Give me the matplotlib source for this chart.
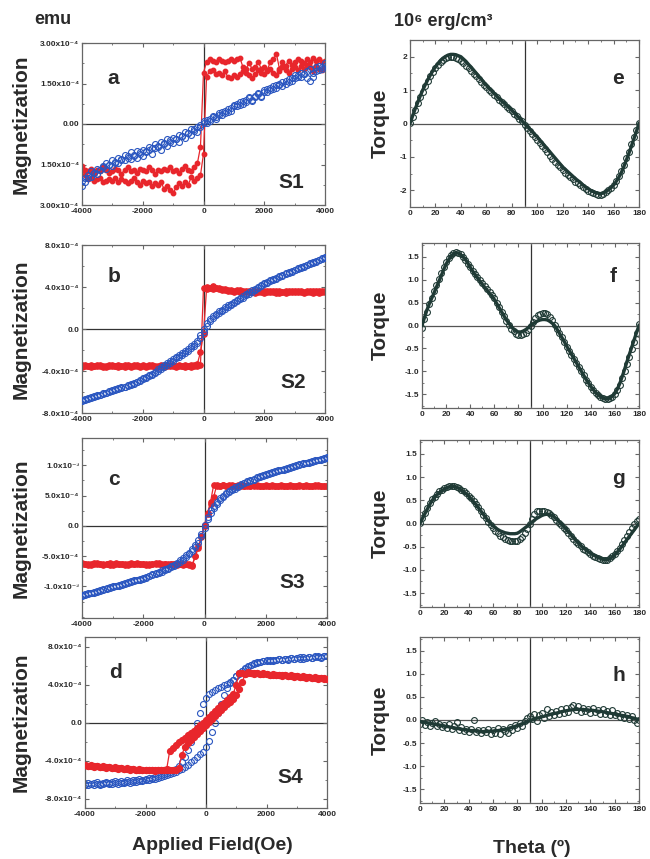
import numpy as np
import matplotlib
matplotlib.use("Agg")
import matplotlib.pyplot as plt
from matplotlib.ticker import MultipleLocator, FixedLocator, FixedFormatter, FormatStrFormatter

plt.rcParams['font.family'] = ['Liberation Sans', 'DejaVu Sans']
plt.rcParams['font.weight'] = 'bold'
plt.rcParams['axes.unicode_minus'] = False

# ---------------- data ----------------
field = np.arange(-4000, 4001, 100)          # applied field (Oe)
theta = np.arange(0, 181, 2)                  # angle (deg)

# Panel a (S1), units 1e-4 emu
a_blue1 = [-2.30,-2.15,-2.00,-1.95,-1.80,-1.85,-1.70,-1.60,-1.65,-1.50,
           -1.55,-1.40,-1.45,-1.30,-1.35,-1.20,-1.30,-1.15,-1.25,-1.10,
           -1.20,-1.05,-0.95,-1.10,-0.90,-0.85,-0.95,-0.75,-0.80,-0.65,
           -0.70,-0.55,-0.65,-0.45,-0.50,-0.35,-0.40,-0.20,-0.30,-0.10,
           0.05,0.15,0.10,0.25,0.20,0.40,0.35,0.50,0.45,0.60,
           0.70,0.65,0.80,0.75,0.90,0.95,0.85,1.05,1.10,1.00,
           1.25,1.20,1.35,1.30,1.45,1.50,1.40,1.60,1.55,1.70,
           1.80,1.75,1.90,1.85,1.95,2.05,1.90,2.10,2.15,2.05,
           2.25]
a_blue2 = [-2.10,-2.00,-1.90,-1.75,-1.80,-1.65,-1.70,-1.55,-1.45,-1.50,
           -1.35,-1.45,-1.25,-1.35,-1.15,-1.25,-1.05,-1.20,-1.00,-1.05,
           -0.95,-1.00,-0.85,-0.90,-0.75,-0.80,-0.65,-0.70,-0.55,-0.60,
           -0.50,-0.55,-0.40,-0.45,-0.30,-0.35,-0.20,-0.25,-0.10,-0.05,
           0.10,0.05,0.20,0.30,0.25,0.35,0.45,0.40,0.55,0.50,
           0.65,0.75,0.70,0.85,0.80,1.00,0.90,1.00,1.15,1.05,
           1.20,1.30,1.25,1.40,1.35,1.45,1.55,1.50,1.65,1.60,
           1.70,1.80,1.75,1.85,1.70,1.60,1.75,1.95,2.00,2.10,
           2.15]
a_red1 = [-1.55,-1.70,-1.75,-1.65,-1.80,-1.70,-1.75,-1.60,-1.70,-1.80,
          -1.75,-1.65,-1.70,-1.85,-1.70,-1.60,-1.75,-1.70,-1.80,-1.65,
          -1.70,-1.75,-1.60,-1.70,-1.85,-1.70,-1.75,-1.65,-1.70,-1.60,
          -1.75,-1.70,-1.80,-1.65,-1.55,-1.70,-1.75,-1.60,-1.45,-0.85,
          1.90,2.30,2.40,2.35,2.30,2.40,2.35,2.30,2.35,2.40,
          2.35,2.40,2.45,2.10,2.05,2.25,2.05,2.10,2.30,2.05,
          2.10,2.00,2.30,2.40,2.60,2.05,2.30,2.15,2.35,2.20,
          2.30,2.40,2.35,2.25,2.40,2.30,2.45,2.35,2.40,2.30,
          2.35]
a_red2 = [-1.70,-1.90,-2.05,-2.00,-2.10,-2.05,-2.00,-2.15,-2.10,-2.05,
          -2.10,-2.00,-2.15,-2.05,-2.10,-2.20,-2.10,-2.00,-2.15,-2.25,
          -2.10,-2.20,-2.15,-2.30,-2.20,-2.25,-2.15,-2.40,-2.30,-2.45,
          -2.55,-2.35,-2.20,-2.30,-2.15,-2.25,-1.95,-2.10,-2.00,-1.90,
          -1.10,1.75,1.95,2.00,1.85,1.90,1.80,1.95,1.75,1.70,
          1.80,1.75,1.85,1.95,1.90,1.80,1.70,1.85,2.00,1.90,
          1.85,1.95,2.05,1.90,1.80,1.95,2.10,2.00,1.90,2.05,
          2.10,2.00,2.15,2.05,2.20,2.10,1.95,2.15,2.05,2.00,
          2.10]

# Panel b (S2), units 1e-4 emu
b_blue1 = [-6.80,-6.65,-6.60,-6.50,-6.40,-6.30,-6.25,-6.10,-6.05,-5.95,
           -5.85,-5.75,-5.65,-5.55,-5.50,-5.35,-5.25,-5.10,-5.00,-4.85,
           -4.70,-4.55,-4.40,-4.25,-4.05,-3.85,-3.65,-3.45,-3.25,-3.05,
           -2.85,-2.65,-2.45,-2.30,-2.10,-1.90,-1.65,-1.45,-1.10,-0.60,
           0.00,0.60,0.95,1.20,1.45,1.70,1.85,2.05,2.25,2.40,
           2.60,2.80,2.95,3.15,3.30,3.50,3.70,3.85,4.00,4.20,
           4.35,4.50,4.65,4.75,4.90,5.05,5.15,5.30,5.40,5.55,
           5.65,5.80,5.90,6.00,6.10,6.25,6.35,6.50,6.60,6.75,
           6.90]
b_blue2 = [-6.90,-6.80,-6.65,-6.60,-6.50,-6.40,-6.30,-6.20,-6.10,-6.00,
           -5.95,-5.85,-5.75,-5.65,-5.55,-5.45,-5.30,-5.20,-5.05,-4.95,
           -4.80,-4.65,-4.50,-4.35,-4.20,-4.00,-3.80,-3.60,-3.40,-3.20,
           -3.00,-2.80,-2.65,-2.45,-2.25,-2.05,-1.85,-1.60,-1.30,-0.90,
           -0.30,0.30,0.75,1.05,1.30,1.55,1.75,1.90,2.10,2.30,
           2.45,2.65,2.85,3.00,3.20,3.35,3.55,3.70,3.90,4.05,
           4.25,4.40,4.55,4.65,4.80,4.95,5.05,5.20,5.35,5.45,
           5.60,5.70,5.85,5.95,6.05,6.15,6.30,6.40,6.55,6.65,
           6.80]
b_red1 = [-3.45,-3.55,-3.50,-3.40,-3.55,-3.50,-3.45,-3.60,-3.50,-3.45,
          -3.50,-3.55,-3.45,-3.50,-3.60,-3.45,-3.50,-3.55,-3.40,-3.50,
          -3.55,-3.50,-3.45,-3.55,-3.50,-3.60,-3.45,-3.50,-3.55,-3.45,
          -3.50,-3.55,-3.45,-3.50,-3.60,-3.50,-3.45,-3.55,-3.50,-3.40,
          3.95,4.00,3.95,4.05,3.90,3.95,3.85,3.80,3.75,3.70,
          3.65,3.60,3.70,3.55,3.60,3.65,3.50,3.60,3.55,3.65,
          3.60,3.50,3.55,3.65,3.60,3.45,3.55,3.60,3.50,3.55,
          3.60,3.55,3.65,3.50,3.55,3.60,3.45,3.55,3.60,3.50,
          3.55]
b_red2 = [-3.60,-3.45,-3.55,-3.60,-3.50,-3.40,-3.55,-3.50,-3.60,-3.55,
          -3.45,-3.50,-3.60,-3.55,-3.45,-3.55,-3.60,-3.45,-3.55,-3.60,
          -3.45,-3.60,-3.55,-3.45,-3.60,-3.50,-3.55,-3.60,-3.45,-3.55,
          -3.45,-3.60,-3.50,-3.55,-3.45,-3.55,-3.60,-3.45,-3.30,-2.20,
          -0.50,3.80,3.90,3.85,3.95,3.80,3.75,3.70,3.65,3.60,
          3.55,3.70,3.50,3.65,3.55,3.50,3.60,3.45,3.65,3.50,
          3.45,3.60,3.65,3.50,3.45,3.60,3.55,3.45,3.60,3.65,
          3.50,3.65,3.55,3.45,3.60,3.50,3.65,3.60,3.45,3.65,
          3.60]

# Panel c (S3), units 1e-4 emu
c_blue1 = [-11.40,-11.25,-11.10,-11.00,-10.85,-10.70,-10.55,-10.40,-10.30,-10.15,
           -10.00,-9.85,-9.70,-9.55,-9.45,-9.30,-9.15,-9.00,-8.85,-8.75,
           -8.60,-8.40,-8.20,-8.00,-7.80,-7.60,-7.35,-7.10,-6.90,-6.65,
           -6.40,-6.05,-5.70,-5.30,-4.85,-4.40,-3.80,-3.20,-2.40,-1.30,
           0.20,1.50,2.60,3.35,3.90,4.55,4.95,5.45,5.75,6.05,
           6.35,6.65,6.90,7.15,7.40,7.60,7.80,8.00,8.20,8.40,
           8.60,8.75,8.90,9.00,9.15,9.30,9.45,9.60,9.70,9.85,
           10.00,10.15,10.30,10.40,10.55,10.70,10.85,10.95,11.10,11.25,
           11.40]
c_blue2 = [-11.55,-11.40,-11.25,-11.10,-11.00,-10.85,-10.70,-10.55,-10.45,-10.30,
           -10.15,-10.00,-9.85,-9.70,-9.60,-9.45,-9.30,-9.15,-9.00,-8.90,
           -8.75,-8.55,-8.35,-8.15,-7.95,-7.75,-7.55,-7.30,-7.10,-6.85,
           -6.60,-6.30,-5.95,-5.60,-5.15,-4.70,-4.15,-3.55,-2.80,-1.70,
           -0.30,1.10,2.20,3.00,3.60,4.25,4.70,5.20,5.55,5.85,
           6.15,6.45,6.75,7.00,7.25,7.45,7.65,7.85,8.05,8.25,
           8.45,8.60,8.75,8.90,9.05,9.15,9.30,9.45,9.60,9.70,
           9.85,10.00,10.15,10.30,10.40,10.55,10.70,10.80,10.95,11.10,
           11.25]
c_red1 = [-6.20,-6.35,-6.25,-6.40,-6.30,-6.20,-6.35,-6.30,-6.25,-6.40,
          -6.30,-6.20,-6.35,-6.25,-6.30,-6.40,-6.25,-6.30,-6.20,-6.35,
          -6.30,-6.25,-6.40,-6.30,-6.20,-6.35,-6.30,-6.25,-6.40,-6.30,
          -6.35,-6.25,-6.30,-6.40,-6.30,-6.25,-6.40,-5.00,-3.60,-1.90,
          0.00,1.90,3.60,4.80,6.70,6.60,6.75,6.55,6.65,6.70,
          6.60,6.55,6.70,6.65,6.50,6.60,6.75,6.65,6.55,6.60,
          6.70,6.55,6.60,6.65,6.50,6.70,6.60,6.55,6.65,6.60,
          6.55,6.70,6.60,6.50,6.65,6.60,6.70,6.55,6.60,6.65,
          6.55]
c_red2 = [-6.35,-6.25,-6.40,-6.30,-6.20,-6.35,-6.25,-6.40,-6.30,-6.20,
          -6.40,-6.30,-6.25,-6.35,-6.40,-6.30,-6.20,-6.35,-6.30,-6.25,
          -6.35,-6.40,-6.25,-6.35,-6.30,-6.20,-6.40,-6.35,-6.25,-6.35,
          -6.25,-6.40,-6.35,-6.25,-6.35,-6.40,-6.55,-4.90,-3.40,-1.70,
          0.20,2.20,4.00,6.80,6.65,6.55,6.70,6.60,6.75,6.55,
          6.65,6.70,6.55,6.60,6.70,6.50,6.60,6.70,6.65,6.55,
          6.60,6.65,6.70,6.55,6.65,6.60,6.50,6.65,6.70,6.55,
          6.65,6.60,6.55,6.70,6.60,6.65,6.55,6.70,6.60,6.50,
          6.65]

# Panel d (S4), units 1e-4 emu
d_blue1 = [-6.55,-6.60,-6.45,-6.55,-6.50,-6.60,-6.50,-6.40,-6.50,-6.45,
           -6.40,-6.45,-6.35,-6.40,-6.30,-6.35,-6.25,-6.30,-6.20,-6.15,
           -6.10,-6.05,-5.95,-5.90,-5.80,-5.70,-5.60,-5.50,-5.40,-5.30,
           -5.20,-5.05,-4.90,-4.70,-4.50,-4.20,-3.90,-3.60,-3.35,-3.10,
           -2.60,-1.90,-1.00,0.00,1.00,2.00,2.90,3.60,4.15,4.50,
           4.90,5.15,5.40,5.60,5.80,6.10,6.20,6.30,6.40,6.45,
           6.50,6.55,6.50,6.60,6.65,6.55,6.70,6.60,6.75,6.65,
           6.75,6.85,6.70,6.80,6.90,6.75,6.85,6.95,6.80,6.95,
           7.00]
d_blue2 = [-6.45,-6.35,-6.50,-6.40,-6.30,-6.45,-6.35,-6.25,-6.40,-6.30,
           -6.20,-6.30,-6.15,-6.25,-6.10,-6.20,-6.05,-6.10,-5.95,-6.00,
           -5.90,-5.85,-5.80,-5.70,-5.65,-5.55,-5.45,-5.30,-5.20,-5.05,
           -4.85,-4.60,-4.15,-3.60,-2.90,-2.00,-1.00,0.00,1.00,1.90,
           2.60,3.00,3.25,3.45,3.60,3.75,3.90,4.10,4.30,4.50,
           4.90,5.20,5.45,5.70,5.90,6.10,6.25,6.35,6.40,6.50,
           6.55,6.50,6.60,6.55,6.65,6.60,6.70,6.65,6.75,6.70,
           6.80,6.70,6.85,6.75,6.90,6.80,6.95,6.85,6.90,7.00,
           6.95]
d_red1 = [-4.50,-4.60,-4.55,-4.65,-4.60,-4.70,-4.65,-4.75,-4.70,-4.80,
          -4.75,-4.85,-4.80,-4.90,-4.85,-4.95,-4.90,-5.00,-4.95,-5.05,
          -5.00,-4.95,-5.05,-5.00,-4.95,-5.05,-5.00,-4.95,-5.05,-5.00,
          -4.95,-4.80,-3.40,-2.60,-2.20,-1.85,-1.50,-1.20,-0.90,-0.60,
          -0.30,0.05,0.40,0.70,1.00,1.30,1.60,1.90,2.20,2.50,
          2.90,3.50,4.30,5.10,5.30,5.25,5.20,5.25,5.15,5.20,
          5.15,5.05,5.10,5.00,5.05,4.95,5.00,4.90,4.95,4.85,
          4.90,4.80,4.85,4.75,4.80,4.70,4.75,4.65,4.70,4.65,
          4.60]
d_red2 = [-4.45,-4.55,-4.50,-4.60,-4.55,-4.65,-4.60,-4.70,-4.65,-4.75,
          -4.70,-4.80,-4.75,-4.85,-4.80,-4.90,-4.85,-4.95,-4.90,-5.00,
          -4.95,-5.05,-5.00,-5.10,-5.05,-4.95,-5.05,-4.90,-3.00,-2.70,
          -2.40,-2.10,-1.85,-1.60,-1.35,-1.10,-0.85,-0.60,-0.30,0.00,
          0.30,0.60,0.90,1.20,1.50,1.80,2.10,2.40,2.70,3.00,
          4.00,5.20,5.25,5.15,5.20,5.25,5.15,5.20,5.10,5.15,
          5.10,5.00,5.05,4.95,5.00,4.90,4.95,4.85,4.90,4.80,
          4.85,4.75,4.80,4.70,4.75,4.65,4.70,4.60,4.65,4.60,
          4.55]

# Torque panels (10^6 erg/cm^3)
e_fit = [0.00,0.22,0.43,0.62,0.82,1.00,1.16,1.31,1.45,1.58,1.70,1.80,1.89,1.96,2.01,2.05,
         2.07,2.07,2.06,2.03,2.00,1.93,1.86,1.77,1.69,1.60,1.51,1.42,1.33,1.24,1.15,1.07,
         0.99,0.91,0.83,0.75,0.68,0.61,0.54,0.47,0.40,0.32,0.24,0.16,0.08,0.00,-0.08,-0.16,
         -0.24,-0.32,-0.40,-0.49,-0.58,-0.67,-0.76,-0.85,-0.94,-1.03,-1.12,-1.21,-1.30,-1.37,
         -1.44,-1.51,-1.58,-1.65,-1.71,-1.77,-1.84,-1.90,-1.95,-2.00,-2.04,-2.07,-2.09,-2.10,
         -2.08,-2.04,-1.98,-1.92,-1.85,-1.74,-1.62,-1.48,-1.30,-1.10,-0.90,-0.68,-0.46,-0.23,0.00]
e_data = [0.02,0.18,0.40,0.60,0.78,0.95,1.12,1.28,1.42,1.55,1.66,1.76,1.84,1.90,1.95,1.98,
          1.99,1.98,1.96,1.92,1.87,1.80,1.73,1.65,1.57,1.49,1.41,1.33,1.25,1.16,1.08,1.00,
          0.93,0.85,0.78,0.71,0.64,0.57,0.50,0.43,0.36,0.29,0.21,0.13,0.06,-0.03,-0.12,-0.21,
          -0.30,-0.39,-0.48,-0.57,-0.67,-0.77,-0.86,-0.96,-1.05,-1.14,-1.23,-1.31,-1.40,-1.47,
          -1.54,-1.61,-1.67,-1.74,-1.79,-1.85,-1.91,-1.96,-2.01,-2.05,-2.09,-2.11,-2.13,-2.13,
          -2.11,-2.06,-2.00,-1.93,-1.84,-1.72,-1.58,-1.42,-1.24,-1.04,-0.84,-0.62,-0.41,-0.20,0.02]
f_fit = [0.00,0.17,0.33,0.47,0.59,0.71,0.84,0.96,1.09,1.22,1.34,1.43,1.51,1.56,1.59,1.58,
         1.55,1.50,1.44,1.36,1.27,1.19,1.11,1.04,0.97,0.90,0.83,0.77,0.70,0.64,0.57,0.48,
         0.39,0.30,0.21,0.12,0.05,-0.02,-0.08,-0.12,-0.14,-0.14,-0.12,-0.09,-0.05,0.00,0.04,0.07,
         0.10,0.12,0.13,0.13,0.12,0.09,0.05,0.00,-0.08,-0.17,-0.26,-0.35,-0.45,-0.54,
         -0.63,-0.72,-0.81,-0.90,-0.99,-1.08,-1.17,-1.25,-1.33,-1.40,-1.46,-1.51,-1.55,-1.58,
         -1.60,-1.60,-1.58,-1.54,-1.48,-1.39,-1.27,-1.12,-0.96,-0.79,-0.63,-0.47,-0.31,-0.15,0.00]
f_data = [-0.05,0.15,0.30,0.46,0.60,0.75,0.88,1.01,1.14,1.27,1.38,1.47,1.54,1.58,1.60,1.58,
          1.55,1.49,1.42,1.35,1.27,1.20,1.12,1.06,1.00,0.93,0.86,0.80,0.73,0.66,0.59,0.50,
          0.40,0.30,0.20,0.10,0.01,-0.07,-0.13,-0.18,-0.20,-0.21,-0.19,-0.16,-0.10,-0.02,0.08,0.16,
          0.22,0.26,0.28,0.28,0.25,0.19,0.11,0.02,-0.07,-0.16,-0.26,-0.36,-0.46,-0.55,
          -0.64,-0.73,-0.82,-0.91,-1.00,-1.09,-1.18,-1.26,-1.34,-1.41,-1.47,-1.52,-1.56,-1.59,
          -1.61,-1.61,-1.59,-1.55,-1.49,-1.40,-1.29,-1.15,-1.00,-0.84,-0.68,-0.52,-0.35,-0.17,0.03]
g_fit = [0.00,0.11,0.21,0.31,0.41,0.50,0.56,0.62,0.67,0.71,0.74,0.77,0.79,0.80,0.80,0.78,
         0.76,0.72,0.68,0.64,0.59,0.53,0.47,0.41,0.34,0.27,0.20,0.13,0.06,0.00,-0.05,-0.09,
         -0.13,-0.16,-0.18,-0.20,-0.21,-0.22,-0.22,-0.22,-0.21,-0.18,-0.14,-0.10,-0.06,-0.02,0.03,0.07,
         0.11,0.14,0.17,0.19,0.20,0.20,0.18,0.15,0.10,0.05,-0.01,-0.06,-0.12,-0.18,
         -0.24,-0.30,-0.36,-0.42,-0.47,-0.52,-0.56,-0.60,-0.64,-0.67,-0.70,-0.73,-0.75,-0.77,
         -0.78,-0.78,-0.76,-0.72,-0.68,-0.62,-0.56,-0.49,-0.42,-0.35,-0.28,-0.21,-0.14,-0.07,0.00]
g_data = [0.02,0.12,0.23,0.34,0.44,0.52,0.58,0.64,0.69,0.73,0.76,0.78,0.80,0.81,0.80,0.79,
          0.76,0.73,0.69,0.65,0.60,0.55,0.49,0.42,0.35,0.27,0.19,0.11,0.03,-0.04,-0.10,-0.16,
          -0.21,-0.26,-0.30,-0.33,-0.36,-0.37,-0.38,-0.38,-0.37,-0.34,-0.29,-0.21,-0.12,-0.02,0.10,0.20,
          0.26,0.28,0.28,0.27,0.25,0.22,0.18,0.13,0.08,0.02,-0.04,-0.09,-0.15,-0.21,
          -0.27,-0.33,-0.39,-0.44,-0.49,-0.54,-0.58,-0.62,-0.66,-0.69,-0.72,-0.75,-0.77,-0.78,
          -0.79,-0.78,-0.75,-0.71,-0.66,-0.59,-0.52,-0.44,-0.36,-0.28,-0.19,-0.10,-0.02,0.06,0.10]
h_fit = [-0.03,-0.04,-0.05,-0.06,-0.07,-0.08,-0.09,-0.10,-0.11,-0.12,-0.13,-0.14,-0.15,-0.16,-0.17,-0.18,
         -0.19,-0.20,-0.21,-0.21,-0.22,-0.23,-0.23,-0.24,-0.24,-0.25,-0.25,-0.25,-0.25,-0.24,-0.24,-0.23,
         -0.23,-0.22,-0.21,-0.20,-0.19,-0.17,-0.16,-0.14,-0.12,-0.10,-0.08,-0.06,-0.04,-0.02,0.00,0.02,
         0.04,0.05,0.07,0.08,0.10,0.11,0.13,0.14,0.15,0.16,0.18,0.19,0.20,0.21,
         0.22,0.22,0.23,0.23,0.23,0.23,0.22,0.22,0.21,0.21,0.20,0.19,0.19,0.18,
         0.17,0.16,0.15,0.14,0.13,0.12,0.11,0.10,0.09,0.08,0.07,0.05,0.04,0.02,0.01]
h_data = [-0.08,0.00,-0.10,-0.04,-0.12,-0.06,-0.03,-0.13,-0.09,-0.15,-0.11,-0.17,-0.08,-0.19,-0.14,-0.04,
          -0.21,-0.16,-0.24,-0.19,-0.26,-0.20,0.00,-0.27,-0.21,-0.29,-0.22,-0.27,-0.19,-0.30,-0.22,-0.28,
          -0.18,-0.30,-0.20,-0.24,-0.29,-0.15,-0.21,-0.10,-0.17,-0.07,-0.12,-0.02,0.05,0.08,0.03,0.14,
          -0.02,0.10,0.16,0.04,0.24,0.08,0.18,0.11,0.20,0.13,0.24,0.15,0.27,0.18,
          0.29,0.33,0.21,0.30,0.17,0.27,0.19,0.24,0.15,0.25,0.17,0.22,0.13,0.23,
          0.14,0.19,0.11,0.21,0.10,0.16,0.07,0.13,0.05,0.11,0.03,0.08,-0.01,-0.07,0.01]

mag_panels = [
    dict(blue=(a_blue1, a_blue2), red=(a_red1, a_red2), scale=1e-4, ylim=(-3e-4, 3e-4),
         yticks=[-3e-4, -1.5e-4, 0, 1.5e-4, 3e-4],
         ylabels=["3.00x10⁻⁴", "1.50x10⁻⁴", "0.00", "1.50x10⁻⁴", "3.00x10⁻⁴"],
         letter="a", sample="S1"),
    dict(blue=(b_blue1, b_blue2), red=(b_red1, b_red2), scale=1e-4, ylim=(-8e-4, 8e-4),
         yticks=[-8e-4, -4e-4, 0, 4e-4, 8e-4],
         ylabels=["-8.0x10⁻⁴", "-4.0x10⁻⁴", "0.0", "4.0x10⁻⁴", "8.0x10⁻⁴"],
         letter="b", sample="S2"),
    dict(blue=(c_blue1, c_blue2), red=(c_red1, c_red2), scale=1e-4, ylim=(-1.52e-3, 1.45e-3),
         yticks=[-1e-3, -5e-4, 0, 5e-4, 1e-3],
         ylabels=["-1.0x10⁻³", "-5.0x10⁻⁴", "0.0", "5.0x10⁻⁴", "1.0x10⁻³"],
         letter="c", sample="S3"),
    dict(blue=(d_blue1, d_blue2), red=(d_red1, d_red2), scale=1e-4, ylim=(-9e-4, 9e-4),
         yticks=[-8e-4, -4e-4, 0, 4e-4, 8e-4],
         ylabels=["-8.0x10⁻⁴", "-4.0x10⁻⁴", "0.0", "4.0x10⁻⁴", "8.0x10⁻⁴"],
         letter="d", sample="S4"),
]
torque_panels = [
    dict(fit=e_fit, data=e_data, ylim=(-2.5, 2.5), major=1, minor=0.5, fmt="%d", letter="e"),
    dict(fit=f_fit, data=f_data, ylim=(-1.8, 1.8), major=0.5, minor=0.25, fmt="%.1f", letter="f"),
    dict(fit=g_fit, data=g_data, ylim=(-1.8, 1.8), major=0.5, minor=0.25, fmt="%.1f", letter="g"),
    dict(fit=h_fit, data=h_data, ylim=(-1.8, 1.8), major=0.5, minor=0.25, fmt="%.1f", letter="h"),
]

# ---------------- layout / style ----------------
W, H = 650, 859
fig = plt.figure(figsize=(W / 100, H / 100), dpi=100)
fig.patch.set_facecolor("white")

def rect(l, r, t, b):
    return [l / W, 1 - b / H, (r - l) / W, (b - t) / H]

left_rects = [rect(82, 325, 43, 205), rect(82, 325, 245, 413),
              rect(82, 327, 438, 618), rect(85, 327, 637, 808)]
right_rects = [rect(410, 639, 40, 207), rect(422, 639, 243, 408),
               rect(420, 639, 440, 607), rect(420, 639, 637, 803)]
left_letter_pos = [((0.13, 0.78), (0.86, 0.14)), ((0.13, 0.81), (0.87, 0.18)),
                   ((0.13, 0.77), (0.86, 0.20)), ((0.125, 0.79), (0.85, 0.18))]
right_letter_pos = [(0.91, 0.77), (0.88, 0.80), (0.905, 0.77), (0.91, 0.77)]
red_ms = [3.2, 3.8, 3.8, 4.2]
red_on_top = [False, False, False, True]

RED = "#e8262c"
BLUE = "#2a56c0"
DARK = "#1f3a35"
TXT = "#2a2a2a"
FRAME = "#666666"

def style_axes(ax):
    for s in ax.spines.values():
        s.set_color(FRAME)
        s.set_linewidth(0.9)
    ax.tick_params(which="both", direction="in", top=True, right=True,
                   colors=FRAME, labelcolor=TXT, labelsize=6, pad=2)
    ax.tick_params(which="major", length=3, width=0.8)
    ax.tick_params(which="minor", length=1.6, width=0.6)
    for lab in ax.get_xticklabels() + ax.get_yticklabels():
        lab.set_fontweight("bold")

for i, (p, r) in enumerate(zip(mag_panels, left_rects)):
    ax = fig.add_axes(r)
    ax.axhline(0, color="#333333", lw=0.9, zorder=1)
    ax.axvline(0, color="#333333", lw=0.9, zorder=1)
    zb, zr = (2, 3) if red_on_top[i] else (3, 2)
    for br in p["blue"]:
        ax.plot(field, np.array(br) * p["scale"], ls="none", marker="o", ms=4.3,
                mfc="none", mec=BLUE, mew=0.8, zorder=zb)
    for br in p["red"]:
        ax.plot(field, np.array(br) * p["scale"], ls="-", lw=0.9, color=RED,
                marker="o", ms=red_ms[i], mfc=RED, mec=RED, zorder=zr)
    ax.set_xlim(-4000, 4000)
    ax.set_ylim(*p["ylim"])
    ax.xaxis.set_major_locator(FixedLocator([-4000, -2000, 0, 2000, 4000]))
    ax.xaxis.set_minor_locator(MultipleLocator(1000))
    ax.yaxis.set_major_locator(FixedLocator(p["yticks"]))
    ax.yaxis.set_major_formatter(FixedFormatter(p["ylabels"]))
    step = p["yticks"][1] - p["yticks"][0]
    ax.yaxis.set_minor_locator(MultipleLocator(step / 2))
    style_axes(ax)
    (lx, ly), (sx, sy) = left_letter_pos[i]
    ax.text(lx, ly, p["letter"], transform=ax.transAxes, fontsize=15, fontweight="bold",
            color=TXT, ha="center", va="center")
    ax.text(sx, sy, p["sample"], transform=ax.transAxes, fontsize=15, fontweight="bold",
            color=TXT, ha="center", va="center")
    fig.text(21 / W, r[1] + r[3] / 2, "Magnetization", rotation=90, fontsize=15,
             fontweight="bold", color=TXT, ha="center", va="center")

for i, (p, r) in enumerate(zip(torque_panels, right_rects)):
    ax = fig.add_axes(r)
    ax.axhline(0, color="#555555", lw=0.9, zorder=1)
    ax.axvline(90, color="#333333", lw=0.9, zorder=1)
    ax.plot(theta, p["data"], ls="none", marker="o", ms=4.2, mfc="none", mec=DARK,
            mew=0.8, zorder=2)
    ax.plot(theta, p["fit"], ls="-", lw=2.4, color=DARK, zorder=3)
    ax.set_xlim(0, 180)
    ax.set_ylim(*p["ylim"])
    ax.xaxis.set_major_locator(MultipleLocator(20))
    ax.xaxis.set_minor_locator(MultipleLocator(10))
    ax.yaxis.set_major_locator(MultipleLocator(p["major"]))
    ax.yaxis.set_minor_locator(MultipleLocator(p["minor"]))
    ax.yaxis.set_major_formatter(FormatStrFormatter(p["fmt"]))
    style_axes(ax)
    lx, ly = right_letter_pos[i]
    ax.text(lx, ly, p["letter"], transform=ax.transAxes, fontsize=15, fontweight="bold",
            color=TXT, ha="center", va="center")
    fig.text(380 / W, r[1] + r[3] / 2, "Torque", rotation=90, fontsize=15,
             fontweight="bold", color=TXT, ha="center", va="center")

fig.text(53 / W, 1 - 20 / H, "emu", fontsize=13, fontweight="bold", color=TXT,
         ha="center", va="center")
fig.text(443 / W, 1 - 21 / H, "10⁶ erg/cm³", fontsize=13, fontweight="bold", color=TXT,
         ha="center", va="center")
fig.text(212 / W, 1 - 846 / H, "Applied Field(Oe)", fontsize=14, fontweight="bold",
         color=TXT, ha="center", va="center")
fig.text(532 / W, 1 - 848 / H, "Theta (º)", fontsize=14, fontweight="bold",
         color=TXT, ha="center", va="center")

fig.savefig("out.png", dpi=100, facecolor="white")
